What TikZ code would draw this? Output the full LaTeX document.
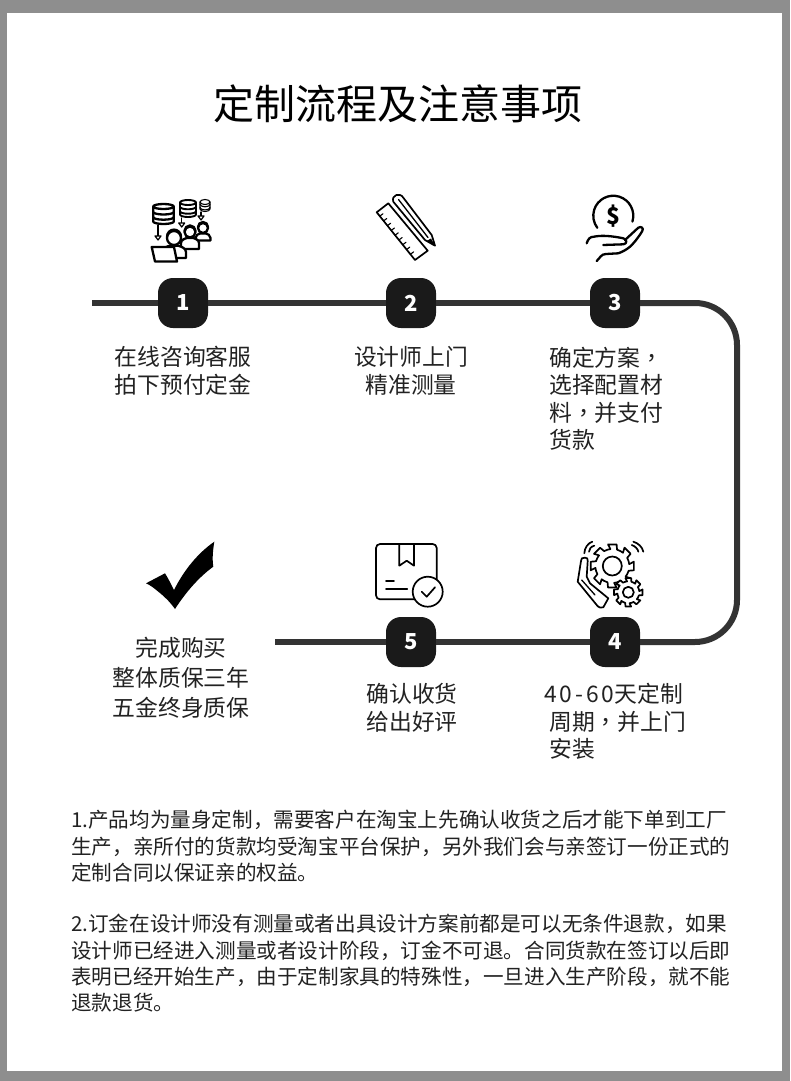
\documentclass[tikz,border=0pt]{standalone}
\usepackage{fontspec}
\setmainfont{Noto Sans CJK SC}
\newfontfamily\tcfont{Noto Sans CJK TC}
\newfontfamily\spacedfont[LetterSpace=13]{Noto Sans CJK SC}
\usetikzlibrary{calc}
\definecolor{framegray}{HTML}{8E8E8E}
\definecolor{trackgray}{HTML}{333333}
\definecolor{badgeblack}{HTML}{1A1A1A}
\definecolor{inkgray}{HTML}{222222}
\tikzset{
  track/.style={line width=6pt, trackgray},
  badge/.style={fill=badgeblack, rounded corners=15pt, minimum width=50pt, minimum height=50pt,
    text=white, font=\fontsize{22}{22}\bfseries\selectfont, inner sep=0pt},
  steptxt/.style={text=inkgray, inner sep=0pt, font=\fontsize{22.8}{27.5}\selectfont},
  bodytxt/.style={text=inkgray, inner sep=0pt, anchor=north west, align=left,
    font=\fontsize{20.6}{26.3}\selectfont},
  iconline/.style={line width=1.7pt, black, line join=round, line cap=round},
  heavyline/.style={iconline, line width=2.3pt},
}
\newcommand{\idb}[5]{% x, top, bottom, half width, line width
  \draw[iconline, line width=#5, fill=white] ({#1-#4},{#2+2.5}) -- ({#1-#4},{#3-2.5})
    arc (180:0:#4 and 2.5) -- ({#1+#4},{#2+2.5});
  \draw[iconline, line width=#5, fill=white] (#1,{#2+2.5}) ellipse (#4 and 2.5);
  \foreach \f in {0.4,0.66}{%
    \draw[iconline, line width=#5] ({#1-#4},{#2+\f*(#3-#2)}) arc (180:0:#4 and 2.5);}}
\newcommand{\iarrow}[3]{% x, from, to
  \draw[iconline, line width=1.2pt] (#1,#2) -- (#1,{#3-3});
  \draw[iconline, line width=1.2pt, fill=white] ({#1-3},{#3-4}) -- (#1,#3) -- ({#1+3},{#3-4}) -- cycle;}
\newcommand{\iperson}[5]{% x, y, head radius, half shoulders, bottom
  \draw[heavyline, fill=white] ({#1-#4},#5) -- ({#1-#4},{#2+2*#3})
    .. controls ({#1-#4},{#2+1.4*#3}) and ({#1-0.9*#3},{#2+1.2*#3}) .. ({#1-0.6*#3},{#2+1.1*#3})
    -- ({#1+0.6*#3},{#2+1.1*#3})
    .. controls ({#1+0.9*#3},{#2+1.2*#3}) and ({#1+#4},{#2+1.4*#3}) .. ({#1+#4},{#2+2*#3})
    -- ({#1+#4},#5) -- cycle;
  \draw[heavyline, fill=white] (#1,#2) circle (#3);
  \draw[heavyline] ({#1-#3},{#2-0.2*#3}) arc (180:360:#3);}
\newcommand{\igear}[6]{% x, y, hole, root, tip, teeth
  \draw[iconline, fill=white] ($(#1,#2)+(-0.14*360/#6:#4)$)
    \foreach \i in {1,...,#6}{%
      -- ($(#1,#2)+({(\i-1-0.25)*360/#6}:#5)$) -- ($(#1,#2)+({(\i-1+0.25)*360/#6}:#5)$)
      -- ($(#1,#2)+({(\i-1+0.36)*360/#6}:#4)$) -- ($(#1,#2)+({(\i-1+0.64)*360/#6}:#4)$)
      -- ($(#1,#2)+({(\i-1+0.86)*360/#6}:#4)$)} -- cycle;
  \draw[iconline] (#1,#2) circle (#3);}
\begin{document}
\begin{tikzpicture}[x=1pt, y=-1pt]
\useasboundingbox (0,0) rectangle (790,1081);
% frame
\fill[framegray] (0,0) rectangle (790,1081);
\fill[white] (7,13) rectangle (782,1071);
% title
\node[inner sep=0pt, text=black, font=\fontsize{41}{41}\selectfont] (title) at (398,104) {定制流程及注意事项};
% badges
\node[badge] (s1) at (183,303) {1};
\node[badge] (s2) at (411,303) {2};
\node[badge] (s3) at (615,303) {3};
\node[badge] (s4) at (615,642) {4};
\node[badge] (s5) at (411,642) {5};
% track
\coordinate (tstart) at (92,303);
\coordinate (tend) at (275,642);
\draw[track] (tstart) -- (s1);
\draw[track] (s1) -- (s2);
\draw[track] (s2) -- (s3);
\draw[track, rounded corners=42pt] (s3) -- (737,303) -- (737,642) -- (s4);
\draw[track] (s4) -- (s5);
\draw[track] (s5) -- (tend);
% step texts
\node[steptxt, align=center] (t1) at (183,371) {在线咨询客服\\拍下预付定金};
\node[steptxt, align=center] (t2) at (411,371) {设计师上门\\精准测量};
\node[steptxt, align=left, anchor=north west] (t3) at (549,346.5) {确定方案{\tcfont ，}\\选择配置材\\料{\tcfont ，}并支付\\货款};
\node[steptxt, align=left, anchor=north west] (t4) at (544,683) {{\spacedfont 40-60}天定制\\\hspace*{5pt}周期{\tcfont ，}并上门\\\hspace*{5pt}安装};
\node[steptxt, align=center] (t5) at (412,708) {确认收货\\给出好评};
\node[steptxt, align=center, font=\fontsize{22.8}{30}\selectfont] (t6) at (181,678) {完成购买\\整体质保三年\\五金终身质保};
% notes
\node[bodytxt] (n1) at (71,810) {1.产品均为量身定制，需要客户在淘宝上先确认收货之后才能下单到工厂\\生产，亲所付的货款均受淘宝平台保护，另外我们会与亲签订一份正式的\\定制合同以保证亲的权益。};
\node[bodytxt] (n2) at (71,914) {2.订金在设计师没有测量或者出具设计方案前都是可以无条件退款，如果\\设计师已经进入测量或者设计阶段，订金不可退。合同货款在签订以后即\\表明已经开始生产，由于定制家具的特殊性，一旦进入生产阶段，就不能\\退款退货。};
% icon 1: databases and people
\idb{163.5}{204}{224}{10.3}{2.3pt}
\idb{188}{200}{217}{8}{1.9pt}
\idb{205}{199.5}{211.5}{5}{1.1pt}
\iarrow{158}{225}{240}
\iarrow{181.7}{218}{227}
\iarrow{201}{212}{220}
\iperson{203}{228}{5}{7.5}{240.5}
\iperson{190}{232}{5.5}{9}{249}
\iperson{174}{238}{7}{12}{258}
\draw[heavyline, fill=white] (151.7,247) -- (155,261.5) -- (177,261.5) -- (174,247) -- cycle;
% icon 2: ruler and pencil
\draw[iconline] (376.7,212.3) -- (388.3,203.3) -- (427.7,250.7) -- (415,260) -- cycle;
\foreach \f in {0.08,0.18,...,0.95}{%
  \draw[iconline, line width=1.1pt] ($(376.7,212.3)!\f!(415,260)$) -- ++(3.2,-2.4);}
\draw[iconline] (393.3,201.7) .. controls (391,195) and (400,192) .. (403.3,197.7)
  -- (431.7,235) -- (435,245.7) -- (425,240) -- cycle;
\draw[iconline, line width=1.3pt] (398.5,199.5) -- (428,237.5);
\fill[black] (435,245.7) -- (431,238.5) -- (426.5,241) -- cycle;
% icon 3: coin and hand
\draw[heavyline] (632.4,221.6) arc (17:-217:20);
\node[inner sep=0pt, font=\fontsize{23}{23}\bfseries\selectfont] (dollar) at (613,216) {\$};
\draw[heavyline] (586.7,243.3) .. controls (588,239) and (590,236.7) .. (594,236.7)
  .. controls (602,235) and (612,236) .. (623.3,238.3)
  .. controls (627,239) and (627.5,244) .. (623.3,244.3) -- (603.3,245);
\draw[heavyline] (625,240) -- (638.3,227.7) .. controls (641,226) and (644,228) .. (642.3,231)
  .. controls (638,238) and (634,243) .. (630,246.7)
  .. controls (626,250) and (622,252) .. (618.3,253.3) -- (606,254)
  .. controls (601,254) and (600,258) .. (596.7,261);
% icon 4: gears and hand
\draw[iconline, fill=white] (585,557.7) .. controls (582,557) and (581,559) .. (581,561)
  -- (577.7,581.7) -- (596.7,605) .. controls (599,608) and (601,608) .. (603.3,607.3)
  -- (608.3,598.3) -- (590,583.3) -- (586.7,576.7) -- (587.7,561) .. controls (587.5,558) .. (585,557.7);
\draw[iconline, line width=1.3pt] (581.7,580) -- (595,595);
\igear{612.3}{566}{9.5}{17}{22}{8}
\igear{628.3}{592.3}{5.5}{11}{14.5}{8}
\draw[iconline] (584.3,553.3) .. controls (584.5,548) and (588,543) .. (592.3,541.7);
\draw[iconline] (589,551.7) .. controls (589,549) and (591,546.5) .. (594.3,545.7);
\draw[iconline] (643.3,551.7) .. controls (642.5,547) and (638,543) .. (633.3,541.7);
\draw[iconline] (638.3,551.7) .. controls (638,549) and (635,546) .. (631.7,545);
% icon 5: parcel
\draw[iconline, rounded corners=4pt] (376,544) rectangle (436.7,599.3);
\draw[iconline] (399.3,544) -- (399.3,565.7) -- (406.7,560.7) -- (414,565.7) -- (414,544);
\draw[iconline] (386,580.7) -- (394,580.7);
\draw[iconline] (386,589) -- (407.3,589);
\draw[iconline, fill=white] (427.7,591.7) circle (15);
\draw[iconline] (421.7,591.7) -- (426.7,596.7) -- (435,587.3);
% big check
\fill[black] (214.3,541.7) .. controls (213,550) and (212,558) .. (213.3,566.7)
  .. controls (199,577) and (186,592) .. (175,609)
  .. controls (170,602) and (165,597) .. (158.3,591.7)
  .. controls (154,588) and (150,585) .. (146,583.3)
  -- (165,573.3) .. controls (168,578) and (171,584) .. (174,590)
  .. controls (184,570) and (198,553) .. (214.3,541.7) -- cycle;
\end{tikzpicture}
\end{document}
